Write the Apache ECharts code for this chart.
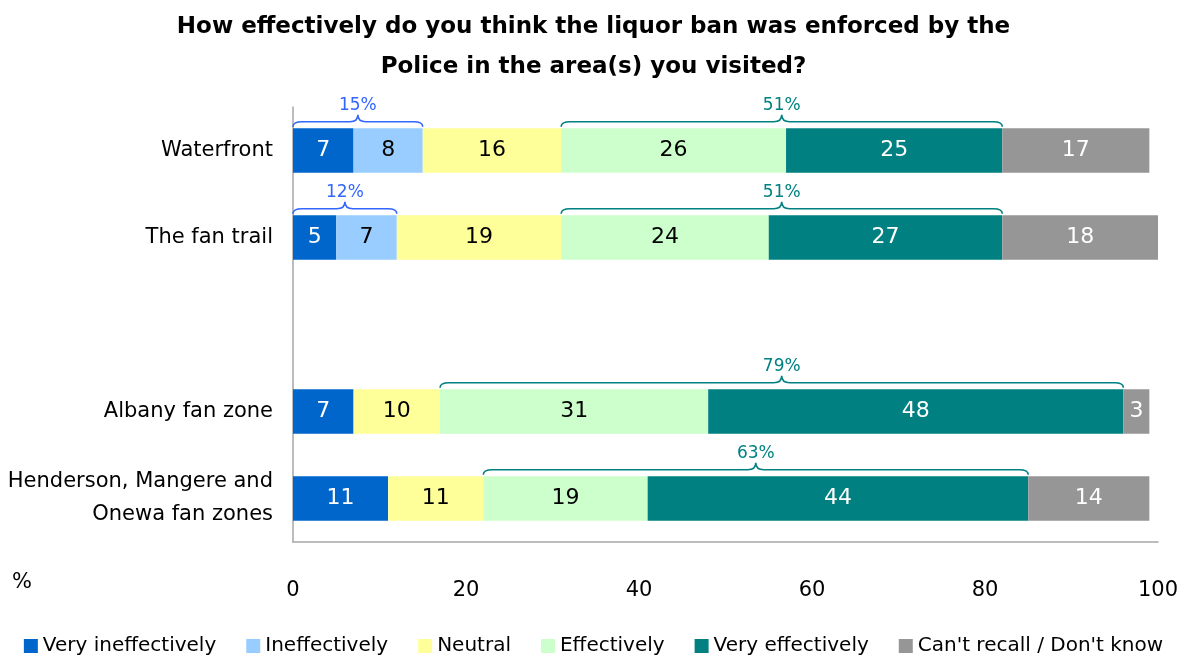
<!DOCTYPE html>
<html>
<head>
<meta charset="utf-8">
<script src="https://cdn.jsdelivr.net/npm/echarts@6/dist/echarts.min.js"></script>
<style>
  html, body { margin: 0; padding: 0; background: #fff; }
  #chart { width: 1187px; height: 662px; }
</style>
</head>
<body>
<div id="chart"></div>
<script>
// Categories (blank entry leaves a gap between the two groups)
var categories = ['Waterfront', 'The fan trail', '', 'Albany fan zone', 'Henderson, Mangere and\nOnewa fan zones'];

// Share of responses (%) per rating
var veryIneffective = [7, 5, null, 7, 11];
var ineffective     = [8, 7, null, null, null];
var neutral         = [16, 19, null, 10, 11];
var effective       = [26, 24, null, 31, 19];
var veryEffective   = [25, 27, null, 48, 44];
var cantRecall      = [17, 18, null, 3, 14];

var seriesNames = ['Very ineffectively', 'Ineffectively', 'Neutral', 'Effectively', 'Very effectively', "Can't recall / Don't know"];

// Net scores shown above the bars: [category index, first series, last series, label]
var ineffectiveNets = [[0, 0, 1, '15%'], [1, 0, 1, '12%']];
var effectiveNets   = [[0, 3, 4, '51%'], [1, 3, 4, '51%'], [3, 3, 4, '79%'], [4, 3, 4, '63%']];

var xTicks = [0, 20, 40, 60, 80, 100];

var FONT = 'DejaVu Sans';
var colors = ['#0066CC', '#99CCFF', '#FFFF99', '#CCFFCC', '#008080', '#969696'];
var labelColors = ['#ffffff', '#000000', '#000000', '#000000', '#ffffff', '#ffffff'];
var allSeries = [veryIneffective, ineffective, neutral, effective, veryEffective, cantRecall];

// Start / end of a run of stacked segments in one category
function spanOf(cat, first, last) {
  var start = 0, end = 0;
  for (var s = 0; s <= last; s++) {
    var v = allSeries[s][cat] || 0;
    if (s < first) start += v;
    end += v;
  }
  return [start, end];
}

function braceData(list) {
  return list.map(function (b) {
    var sp = spanOf(b[0], b[1], b[2]);
    return [sp[0], b[0], sp[1], b[3]];
  });
}

function braceSeries(list, color) {
  return {
    type: 'custom',
    name: 'brace',
    silent: true,
    z: 10,
    data: braceData(list),
    encode: { x: [0, 2], y: 1 },
    renderItem: function (params, api) {
      var p1 = api.coord([api.value(0), api.value(1)]);
      var p2 = api.coord([api.value(2), api.value(1)]);
      var band = api.size([0, 1])[1];
      var yb = p1[1] - band * 0.25 - 7;
      var x1 = p1[0], x2 = p2[0], xm = (x1 + x2) / 2;
      var d = 'M' + x1 + ',' + (yb + 5) +
        ' Q' + x1 + ',' + yb + ' ' + (x1 + 9) + ',' + yb +
        ' L' + (xm - 8) + ',' + yb +
        ' Q' + xm + ',' + yb + ' ' + xm + ',' + (yb - 7) +
        ' Q' + xm + ',' + yb + ' ' + (xm + 8) + ',' + yb +
        ' L' + (x2 - 9) + ',' + yb +
        ' Q' + x2 + ',' + yb + ' ' + x2 + ',' + (yb + 5);
      return {
        type: 'group',
        children: [{
          type: 'path',
          shape: { pathData: d },
          style: { fill: null, stroke: color, lineWidth: 1.6 }
        }, {
          type: 'text',
          style: {
            x: xm, y: yb - 16, text: api.value(3),
            fill: color, font: '17px "' + FONT + '"',
            align: 'center', verticalAlign: 'middle'
          }
        }]
      };
    }
  };
}

var series = allSeries.map(function (vals, i) {
  return {
    name: seriesNames[i],
    type: 'bar',
    stack: 'total',
    barWidth: '51%',
    data: vals,
    itemStyle: { color: colors[i] },
    label: {
      show: true,
      position: 'inside',
      color: labelColors[i],
      fontFamily: FONT,
      fontSize: 22,
      formatter: function (p) { return p.value == null ? '' : p.value; }
    },
    emphasis: { disabled: true }
  };
});
series.push(braceSeries(ineffectiveNets, '#3366FF'));
series.push(braceSeries(effectiveNets, '#008080'));

var chart = echarts.init(document.getElementById('chart'));
chart.setOption({
  animation: false,
  backgroundColor: '#ffffff',
  color: colors,
  title: {
    text: 'How effectively do you think the liquor ban was enforced by the\nPolice in the area(s) you visited?',
    left: 'center',
    top: 2,
    textStyle: { fontFamily: FONT, fontWeight: 'bold', fontSize: 23, lineHeight: 40, color: '#000' }
  },
  legend: {
    data: seriesNames,
    bottom: 1,
    left: 'center',
    itemWidth: 14,
    itemHeight: 14,
    itemGap: 30,
    icon: 'rect',
    textStyle: { fontFamily: FONT, fontSize: 20, color: '#000' }
  },
  grid: { left: 293, right: 29, top: 107, height: 435 },
  xAxis: {
    type: 'value',
    min: xTicks[0],
    max: xTicks[xTicks.length - 1],
    interval: 20,
    axisLine: { show: true, lineStyle: { color: '#a6a6a6', width: 1.5 } },
    axisTick: { show: false },
    splitLine: { show: false },
    axisLabel: { fontFamily: FONT, fontSize: 21, color: '#000', margin: 38 }
  },
  yAxis: {
    type: 'category',
    inverse: true,
    data: categories,
    axisLine: { show: true, lineStyle: { color: '#a6a6a6', width: 1.5 } },
    axisTick: { show: false },
    axisLabel: { fontFamily: FONT, fontSize: 21, color: '#000', margin: 20, lineHeight: 33, align: 'right' }
  },
  graphic: [{
    type: 'text',
    left: 12,
    top: 572,
    style: { text: '%', fontFamily: FONT, fontSize: 21, fill: '#000' }
  }],
  series: series
});
</script>
</body>
</html>
